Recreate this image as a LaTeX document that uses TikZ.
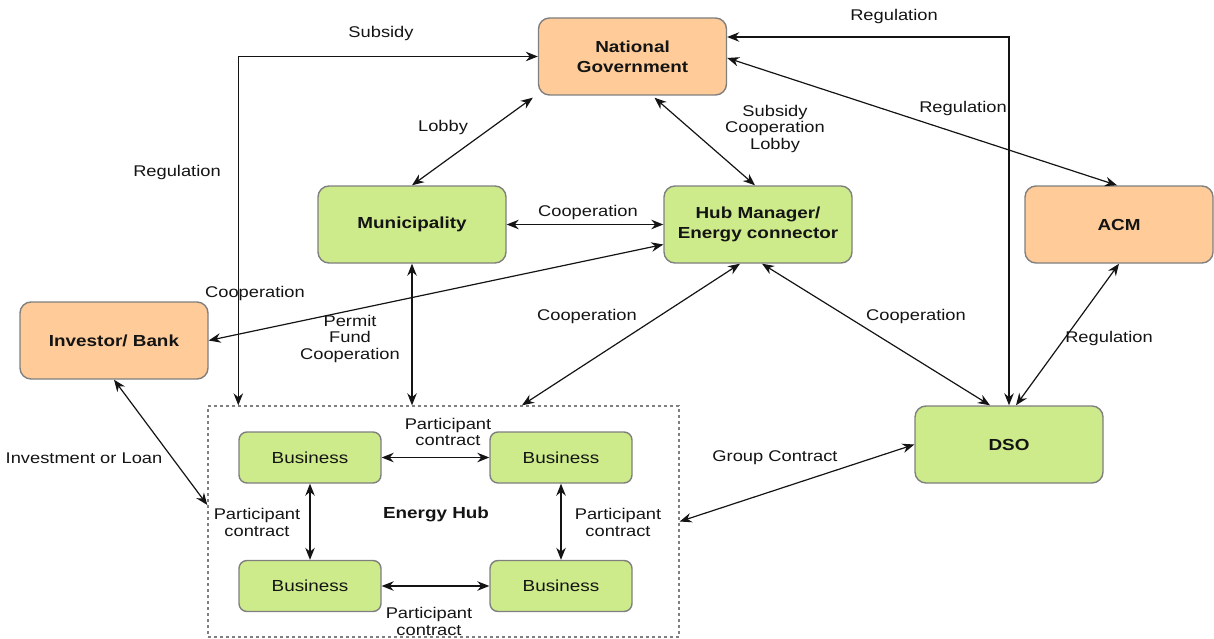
\documentclass[tikz,border=0pt]{standalone}
\usepackage{fontspec}
\setmainfont{Liberation Sans}[FakeStretch=1.18]
\usetikzlibrary{arrows.meta,calc}
\definecolor{peach}{HTML}{FFCC99}
\definecolor{leaf}{HTML}{CDEB8B}
\definecolor{rim}{HTML}{7F7F7F}
\definecolor{ink}{HTML}{141414}
\begin{document}
\begin{tikzpicture}[x=1pt,y=-1pt,
  actor/.style={draw=rim,line width=1.4pt,rounded corners=11pt,minimum width=188pt,
    minimum height=77pt,align=center,inner sep=0pt,text=ink,
    font=\bfseries\fontsize{16}{20}\selectfont},
  party/.style={actor,fill=peach},
  grid/.style={actor,fill=leaf},
  biz/.style={draw=rim,line width=1.4pt,rounded corners=8pt,fill=leaf,minimum width=142pt,
    minimum height=51pt,inner sep=0pt,text=ink,font=\fontsize{16}{17}\selectfont},
  zone/.style={draw=rim,line width=1.4pt,dash pattern=on 3pt off 3pt,minimum width=471pt,
    minimum height=231pt,inner sep=0pt},
  link/.style={line width=1.2pt,draw=ink,
    {Stealth[length=12pt,width=9.5pt]}-{Stealth[length=12pt,width=9.5pt]}},
  lbl/.style={align=center,inner sep=0pt,text=ink,font=\fontsize{15.5}{16.5}\selectfont},
  bold/.style={lbl,font=\bfseries\fontsize{16}{17}\selectfont}]
\useasboundingbox (0,0) rectangle (1214,639);

% actors
\node[party] (ng)  at (632.5,56.5) {National\\Government};
\node[grid]  (mun) at (412,224.5) {Municipality};
\node[grid]  (hm)  at (758,224.5) {\fontsize{16}{18}\selectfont Hub Manager/\\Energy connector};
\node[party] (acm) at (1119,224.5) {ACM};
\node[party] (inv) at (114,340.5) {Investor/ Bank};
\node[grid]  (dso) at (1009,444.5) {DSO};

% energy hub with its businesses
\node[zone] (eh) at (443.5,521.5) {};
\node[biz] (b1) at (310,457.5) {Business};
\node[biz] (b2) at (561,457.5) {Business};
\node[biz] (b3) at (310,586) {Business};
\node[biz] (b4) at (561,586) {Business};
\node[bold] (ehl) at (436,514) {Energy Hub};

% connectors
\draw[link] (ng.west) -| ([xshift=31]eh.north west);
\draw[link] ([xshift=-5,yshift=-2]ng.south west) -- (mun.north);
\draw[link] ([xshift=22,yshift=-2]ng.south) -- ([xshift=-3]hm.north);
\draw[link] ([yshift=19.5]ng.east) -| (dso.north);
\draw[link] ([yshift=-1.5]ng.east) -- ([xshift=-2]acm.north);
\draw[link] (mun.east) -- (hm.west);
\draw[link] (inv.east) -- ([yshift=-20]hm.west);
\draw[link] (mun.south) -- (mun.south |- eh.north);
\draw[link] ([xshift=-18]hm.south) -- ([xshift=78.5]eh.north);
\draw[link] ([xshift=4]hm.south) -- ([xshift=-19]dso.north);
\draw[link] (acm.south) -- ([xshift=7]dso.north);
\draw[link] (inv.south) -- ([yshift=16.5]eh.west);
\draw[link] (dso.west) -- (eh.east);
\draw[link] (b1.east) -- (b2.west);
\draw[link] (b3.east) -- (b4.west);
\draw[link] (b1.south) -- (b3.north);
\draw[link] (b2.south) -- (b4.north);

% connector labels
\node[lbl] (l1)  at (381,33)   {Subsidy};
\node[lbl] (l2)  at (177,172)  {Regulation};
\node[lbl] (l3)  at (443,127)  {Lobby};
\node[lbl] (l4)  at (775,128.5) {Subsidy\\Cooperation\\Lobby};
\node[lbl] (l5)  at (894,16)   {Regulation};
\node[lbl] (l6)  at (963,108)  {Regulation};
\node[lbl] (l7)  at (588,212)  {Cooperation};
\node[lbl] (l8)  at (255,293)  {Cooperation};
\node[lbl] (l9)  at (350,338.5) {Permit\\Fund\\Cooperation};
\node[lbl] (l10) at (587,316)  {Cooperation};
\node[lbl] (l11) at (916,316)  {Cooperation};
\node[lbl] (l12) at (1109,338) {Regulation};
\node[lbl] (l13) at (84,458)   {Investment or Loan};
\node[lbl] (l14) at (775,458)  {Group Contract};
\node[lbl] (l15) at (448,432)  {Participant\\contract};
\node[lbl] (l16) at (429,621.5) {Participant\\contract};
\node[lbl] (l17) at (257,522.5) {Participant\\contract};
\node[lbl] (l18) at (618,522.5) {Participant\\contract};
\end{tikzpicture}
\end{document}
